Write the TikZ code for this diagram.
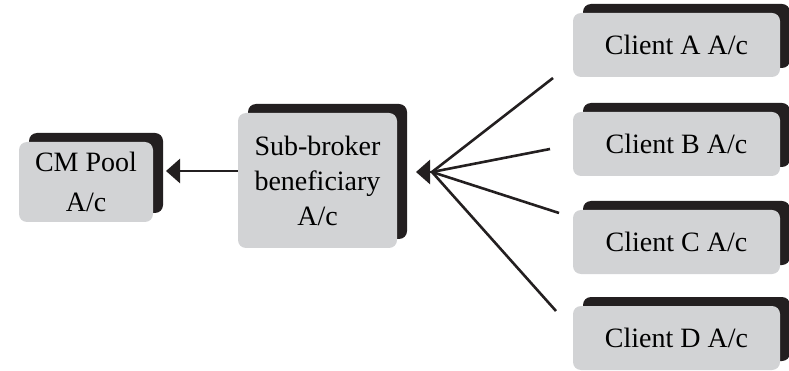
\documentclass[tikz,border=0pt]{standalone}
\usepackage{fontspec}
\setmainfont{Liberation Serif}
\usetikzlibrary{arrows.meta,shadows}
\definecolor{boxgrey}{RGB}{210,211,213}
\definecolor{shadowc}{RGB}{35,31,32}
\tikzset{
  acbox/.style={fill=boxgrey, draw=none, rounded corners=8pt, inner sep=0pt,
    align=center, font=\fontsize{28}{35}\selectfont,
    general shadow={fill=shadowc, shadow xshift=10pt, shadow yshift=9pt}},
  clientbox/.style={acbox, minimum width=207pt, minimum height=64pt},
  link/.style={line width=2.6pt, draw=shadowc},
  arr/.style={link, -{Triangle[length=14pt,width=24pt]}}
}
\begin{document}
\begin{tikzpicture}[x=1pt,y=-1pt]
\useasboundingbox (0,0) rectangle (789,371);
\node[acbox, minimum width=134pt, minimum height=80pt,
  font=\fontsize{28}{40}\selectfont] (cm) at (86,182) {CM Pool\\A/c};
\node[acbox, minimum width=159pt, minimum height=135pt] (sb) at (317.5,180.5) {Sub-broker\\beneficiary\\A/c};
\node[clientbox] (ca) at (676.5,45) {Client A A/c};
\node[clientbox] (cb) at (676.5,144) {Client B A/c};
\node[clientbox] (cc) at (676.5,242) {Client C A/c};
\node[clientbox] (cd) at (676.5,338) {Client D A/c};
\coordinate (tipcm) at (166,171);
\draw[arr] (sb.west |- tipcm) -- (tipcm);
\coordinate (hub) at (416,172);
\coordinate (hubbase) at (432,172);
\coordinate (ea) at (553,78);
\coordinate (eb) at (550,149);
\coordinate (ec) at (559,213);
\coordinate (ed) at (556,311);
\foreach \e in {ea,eb,ec,ed} \draw[link] (\e) -- (hubbase);
\draw[arr] (hubbase) -- (hub);
\end{tikzpicture}
\end{document}
